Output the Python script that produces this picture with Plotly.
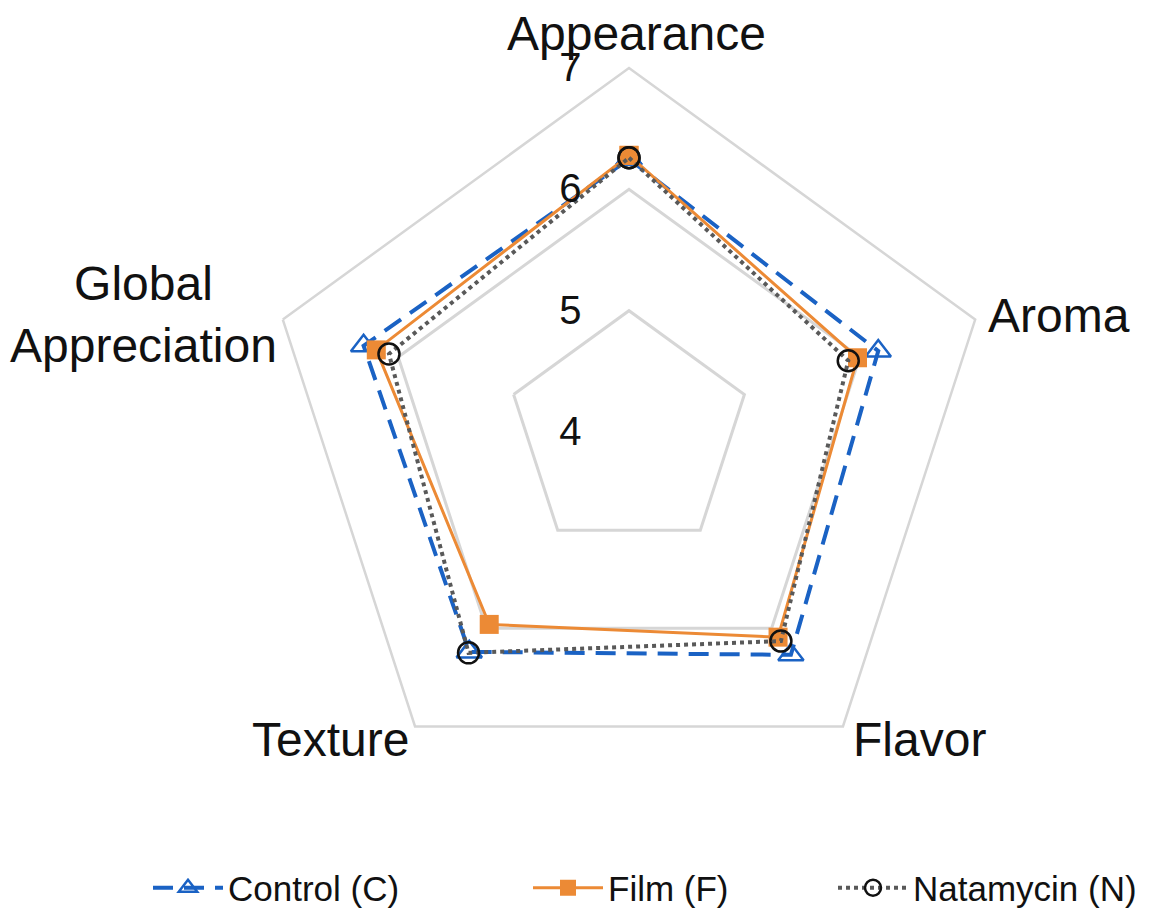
import plotly.graph_objects as go

categories = ["Appearance", "Aroma", "Flavor", "Texture", "Global Appreciation"]
category_labels = ["Appearance", "Aroma", "Flavor", "Texture", "Global<br>Appreciation"]
control = [6.25, 6.16, 6.27, 6.24, 6.30]
film = [6.28, 5.98, 6.09, 5.96, 6.19]
natamycin = [6.26, 5.90, 6.13, 6.25, 6.08]
radial_ticks = [4, 5, 6, 7]
series_names = ["Control (C)", "Film (F)", "Natamycin (N)"]

W, H = 1154, 910

def closed(v):
    return list(v) + [v[0]]

theta = closed(categories)

fig = go.Figure()
fig.add_trace(go.Scatterpolar(
    r=closed(control), theta=theta, name=series_names[0], mode="lines+markers",
    line=dict(color="#1a62c4", width=4, dash="20px,11px"),
    marker=dict(symbol="triangle-up-open", size=22, color="#1a62c4", line=dict(width=2.5, color="#1a62c4")),
    legendwidth=295,
))
fig.add_trace(go.Scatterpolar(
    r=closed(film), theta=theta, name=series_names[1], mode="lines+markers",
    line=dict(color="#ec8a35", width=3),
    marker=dict(symbol="square", size=19, color="#ec8a35"),
    legendwidth=220,
))
fig.add_trace(go.Scatterpolar(
    r=closed(natamycin), theta=theta, name=series_names[2], mode="lines+markers",
    line=dict(color="#595959", width=4, dash="dot"),
    marker=dict(symbol="circle-open", size=21, color="#111111", line=dict(width=2.5, color="#111111")),
))

# category label placement (paper pixels: center x, anchor y)
label_pos = [(628, 0, "top"), (1051, 307, "middle"), (911, 731, "middle"),
             (322, 731, "middle"), (135, 306, "middle")]
annotations = [
    dict(text=t, x=px / W, y=1 - py / H, xref="paper", yref="paper",
         xanchor="center", yanchor=ya, showarrow=False, yshift=3 if ya == "top" else 0,
         font=dict(size=48, color="#111111"))
    for t, (px, py, ya) in zip(category_labels, label_pos)
]

fig.update_layout(
    width=W, height=H,
    margin=dict(l=0, r=0, t=0, b=0),
    paper_bgcolor="white",
    font=dict(family="Liberation Sans, Arial, sans-serif", color="#111111"),
    polar=dict(
        domain=dict(x=[257 / W, 985 / W], y=[122 / H, 850 / H]),
        bgcolor="white",
        gridshape="linear",
        radialaxis=dict(
            range=[4, 7], tickvals=radial_ticks, ticktext=[str(t) for t in radial_ticks],
            angle=90, side="counterclockwise", showline=False,
            gridcolor="#d6d6d6", gridwidth=2.5,
            ticks="outside", ticklen=33, tickcolor="rgba(0,0,0,0)",
            tickfont=dict(size=40, color="#111111"),
            tickangle=90,
        ),
        angularaxis=dict(
            direction="clockwise", rotation=90,
            showgrid=False, showline=True, linecolor="#d6d6d6", linewidth=2.5,
            showticklabels=False, ticks="",
        ),
    ),
    annotations=annotations,
    legend=dict(
        orientation="h", x=140 / W, xanchor="left", y=30 / H, yanchor="middle",
        font=dict(size=35, color="#111111"),
        itemwidth=70,
    ),
    showlegend=True,
)

fig.write_html("out.html")
